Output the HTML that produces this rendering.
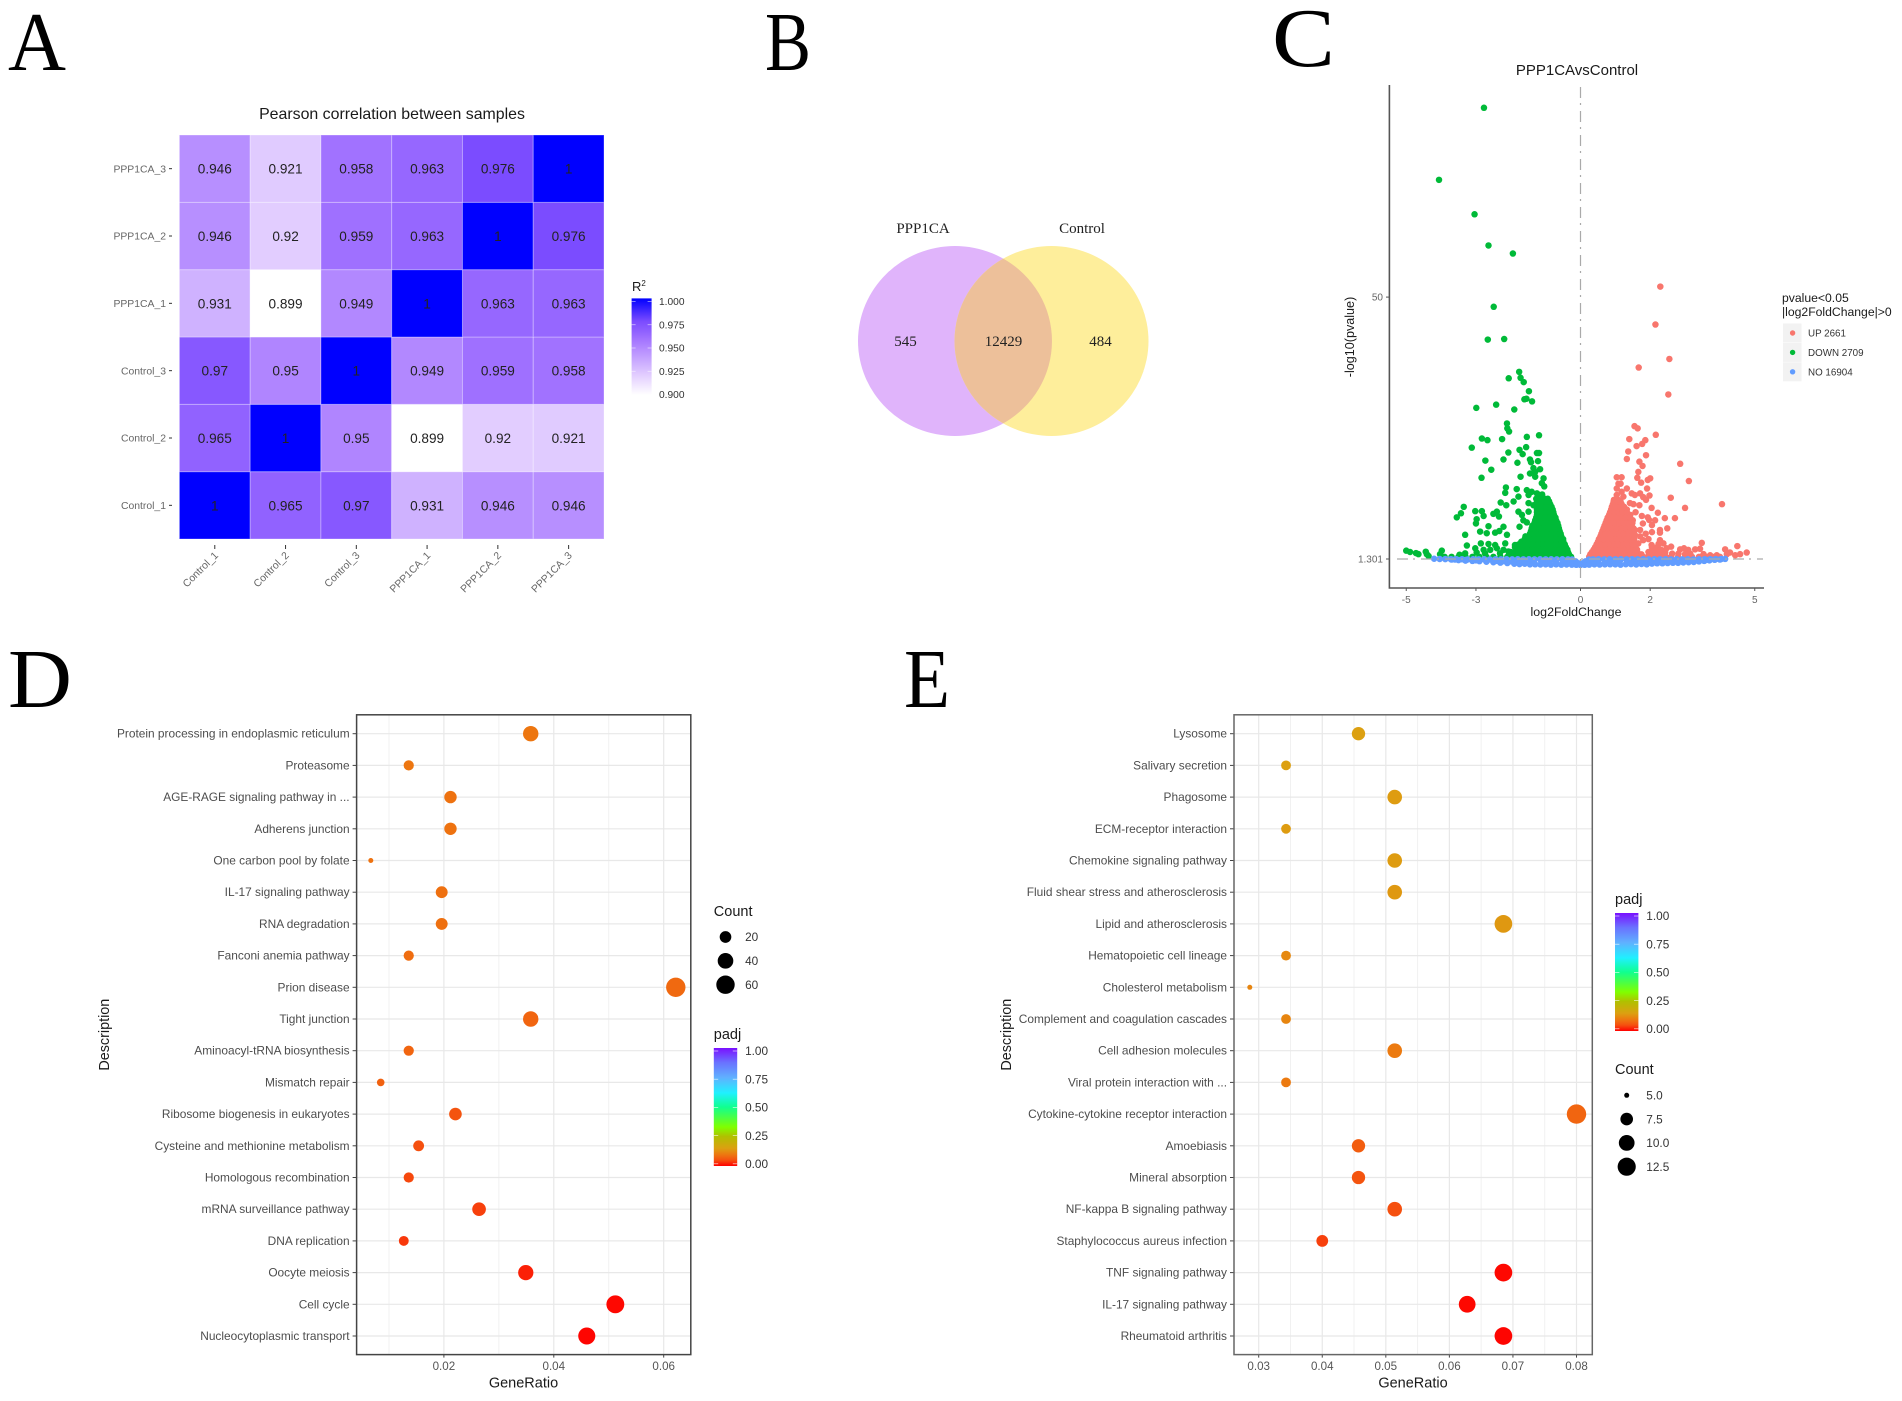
<!DOCTYPE html>
<html lang="en">
<head>
<meta charset="utf-8">
<title>PPP1CA figure panels</title>
<style>
html,body{margin:0;padding:0;background:#fff;}
svg{display:block;filter:blur(.35px);}
text{font-family:"Liberation Sans",sans-serif;}
.letter{font-family:"Liberation Serif",serif;font-size:84px;fill:#000;}
.venn{font-family:"Liberation Serif",serif;font-size:15px;fill:#222;text-anchor:middle;}
</style>
</head>
<body>
<svg id="fig" xmlns="http://www.w3.org/2000/svg" width="1902" height="1401" viewBox="0 0 1902 1401">
  <defs id="defs"></defs>
  <rect x="0" y="0" width="1902" height="1401" fill="#fff"/>
  <text class="letter" x="8" y="70" textLength="58" lengthAdjust="spacingAndGlyphs">A</text>
  <text class="letter" x="765" y="70" textLength="46" lengthAdjust="spacingAndGlyphs">B</text>
  <text class="letter" x="1272" y="66" textLength="63" lengthAdjust="spacingAndGlyphs">C</text>
  <text class="letter" x="8" y="707" textLength="64" lengthAdjust="spacingAndGlyphs">D</text>
  <text class="letter" x="904" y="707" textLength="46" lengthAdjust="spacingAndGlyphs">E</text>

  <g id="panelA">
    <text x="392" y="119" font-size="15.9" fill="#1a1a1a" text-anchor="middle">Pearson correlation between samples</text>
    <text x="632" y="291" font-size="13" fill="#1a1a1a">R<tspan font-size="8" dy="-5">2</tspan></text>
  </g>

  <g id="panelB">
    <ellipse cx="955" cy="341" rx="97" ry="95" fill="#e0b4fb"/>
    <ellipse cx="1051.5" cy="341" rx="97" ry="95" fill="#feee9b"/>
    <path d="M1003.25,258.6 A97,95 0 0 1 1003.25,423.4 A97,95 0 0 1 1003.25,258.6 Z" fill="#edc09a"/>
    <text class="venn" x="923" y="233">PPP1CA</text>
    <text class="venn" x="1082" y="233">Control</text>
    <text class="venn" x="905.5" y="346">545</text>
    <text class="venn" x="1003.5" y="346">12429</text>
    <text class="venn" x="1100.5" y="346">484</text>
  </g>

  <g id="panelC">
    <text x="1577" y="75" font-size="15" fill="#1a1a1a" text-anchor="middle">PPP1CAvsControl</text>
    <text x="1576" y="616" font-size="12.4" fill="#1a1a1a" text-anchor="middle">log2FoldChange</text>
    <text transform="translate(1354,337) rotate(-90)" font-size="12.6" fill="#1a1a1a" text-anchor="middle">-log10(pvalue)</text>
    <text x="1782" y="302" font-size="12.2" fill="#1a1a1a">pvalue&lt;0.05</text>
    <text x="1782" y="316" font-size="12.2" fill="#1a1a1a">|log2FoldChange|&gt;0</text>
  </g>

  <g id="panelD"></g>
  <g id="panelE"></g>
</svg>

<script>
/* ---------- Panel A data ---------- */
const heatSamples = ["Control_1","Control_2","Control_3","PPP1CA_1","PPP1CA_2","PPP1CA_3"];
const heatMatrix = [
  [1,0.965,0.97,0.931,0.946,0.946],
  [0.965,1,0.95,0.899,0.92,0.921],
  [0.97,0.95,1,0.949,0.959,0.958],
  [0.931,0.899,0.949,1,0.963,0.963],
  [0.946,0.92,0.959,0.963,1,0.976],
  [0.946,0.921,0.958,0.963,0.976,1]
];
const heatLegendTicks = ["0.900","0.925","0.950","0.975","1.000"];

/* ---------- Panel C data: [log2FoldChange, -log10(pvalue)] ---------- */
const volcanoXTicks = [-5,-3,0,2,5];
const volcanoYTicks = [1.301,50];
const legendLabels = ["UP 2661","DOWN 2709","NO 16904"];
const downScatter = [[-2.77,85.2],[-4.06,71.8],[-3.04,65.4],[-2.64,59.6],[-1.94,58.1],[-2.49,48.2],[-2.66,42.1],[-2.19,42.2],[-1.76,36.1],[-2.06,34.9],[-1.72,35],[-1.63,34.2],[-1.48,32.5],[-1.61,31],[-1.55,31.1],[-1.39,30.6],[-2.99,29.4],[-2.42,30],[-1.9,29.1],
[-5,2.85],[-4.89,2.6],[-4.72,2.4],[-4.65,2.2],[-4.44,2.66],[-4.41,2.2],[-4.36,1.86],[-3.98,2.85],[-4.03,2.2],[-3.47,2.1],[-3.31,2.35],[-3.26,3.8],[-3.31,5.8],[-3.55,9.05],[-3.43,9.8],[-3.35,11],[-3.02,10.2],[-2.83,10.2],[-2.78,9.3],[-2.98,8.7],[-3,7.9],[-3.12,22],[-2.83,23.7],[-2.67,23.4],[-2.25,23.6],[-2.11,26.5],[-2.1,25.6],[-2.05,25],[-1.54,24],[-1.19,24.3],[-1.56,22.1],[-1.75,21.6],[-1.66,20.8],[-2.07,21.1],[-2.21,19.8],[-2.73,19.6],[-1.81,19.2],[-2.56,17.9],[-2.84,16.4],[-1.45,19.8],[-1.42,19.3],[-1.22,19.5],[-1.25,21],[-1.19,21],[-1.35,18.2],[-1.45,17.2],[-1.3,17.5],[-1.16,18],[-1.3,16.6],[-1.06,16.3],[-1.11,15.4],[-1.04,14.8],[-1.72,16.6],[-2.14,14.6],[-2.16,13.6],[-1.83,14.3],[-1.78,12.9],[-1.92,12],[-2.29,11.8],[-2.13,11.3],[-1.54,14.1],[-1.4,13.8],[-1.49,13.2],[-1.25,13.5],[-2.64,7.4],[-2.4,10.1],[-2.5,9.7],[-2.34,9.2],[-2.21,7.3],[-2.33,6.5],[-2.45,6.2],[-2.69,6.1],[-2.88,6.4],[-2.11,5.8],[-1.78,10.1],[-1.68,9.5],[-1.75,7.3],[-1.64,8.5],[-1.49,10.1],[-1.54,8.1],[-1.49,11.7],[-1.35,11.3],[-2.86,4.2],[-3.02,3.3],[-2.98,2.5],[-2.64,4.1],[-2.45,3.9],[-2.59,3],[-2.78,3],[-2.74,2.35],[-2.4,3.3],[-2.16,4.2],[-2.21,3],[-1.88,3.9],[-2.07,2.7],[-2.31,2.35]];
const downDenseY = [1.7,2.6,3.5,4.5,5.5,6.5,7.5,8.5,9.5,10.5,11.5,12.5,13.3,2.15,3.05,4,5,6,7,8,9,10,11,12];
const downDenseX = [
 [-3.9,-3.7,-3.5,-3.3,-3.1,-2.9,-2.7,-2.5,-2.3,-2.1,-1.95,-1.8,-1.66,-1.52,-1.38,-1.24,-1.1,-0.96,-0.82,-0.68,-0.54,-0.4,-0.27],
 [-2,-1.87,-1.73,-1.6,-1.46,-1.33,-1.2,-1.06,-0.93,-0.8,-0.67,-0.54,-0.36],
 [-1.88,-1.72,-1.58,-1.45,-1.32,-1.19,-1.06,-0.93,-0.8,-0.67,-0.54,-0.42],
 [-1.7,-1.55,-1.42,-1.28,-1.15,-1.02,-0.89,-0.76,-0.63,-0.49],
 [-1.58,-1.42,-1.28,-1.15,-1.02,-0.89,-0.76,-0.65,-0.55],
 [-1.42,-1.28,-1.15,-1.02,-0.89,-0.76,-0.6],
 [-1.38,-1.25,-1.12,-0.99,-0.86,-0.74,-0.64],
 [-1.3,-1.17,-1.04,-0.91,-0.8,-0.7],
 [-1.25,-1.12,-0.99,-0.86,-0.76],
 [-1.25,-1.12,-0.99,-0.88,-0.8],
 [-1.25,-1.12,-1,-0.87],
 [-1.27,-1.15,-1.03,-0.94],
 [-1.22,-1.1],
 [-1.94,-1.8,-1.67,-1.53,-1.4,-1.27,-1.13,-1,-0.87,-0.73,-0.6,-0.47,-0.33],
 [-1.8,-1.65,-1.52,-1.38,-1.25,-1.12,-1,-0.87,-0.73,-0.6,-0.48,-0.38],
 [-1.78,-1.64,-1.5,-1.36,-1.22,-1.08,-0.96,-0.83,-0.7,-0.56,-0.45],
 [-1.6,-1.48,-1.35,-1.22,-1.08,-0.96,-0.83,-0.7,-0.58,-0.5],
 [-1.45,-1.35,-1.22,-1.08,-0.96,-0.83,-0.7,-0.57],
 [-1.4,-1.32,-1.18,-1.05,-0.92,-0.8,-0.68,-0.62],
 [-1.32,-1.2,-1.07,-0.95,-0.83,-0.73,-0.66],
 [-1.27,-1.14,-1.01,-0.88,-0.78,-0.72],
 [-1.25,-1.12,-0.99,-0.87,-0.78],
 [-1.25,-1.12,-0.99,-0.87,-0.83],
 [-1.25,-1.12,-0.99,-0.9]
];
const upScatter = [[2.29,51.95],[2.15,44.9],[2.55,38.5],[1.67,36.9],[2.52,31.9],[1.55,26],[1.64,25.6],[2.16,24.4],[1.4,23.6],[1.86,23.4],[1.77,22.7],[1.61,22.3],[1.37,21.3],[1.88,20.6],[1.33,19.9],[1.69,19.4],[1.78,18.6],[2.86,19],[1.66,17.5],[3.11,15.8],[1.63,16.4],[1.74,15.5],[1.93,16],[2,16.3],[1.91,14.4],[1.04,16.5],[1.18,16.5],[1.09,15.3],[1.15,15.3],[1.04,14.4],[1.18,13.8],[1.33,14.4],[1.04,13.2],[1.23,12.9],[1.47,13.5],[1.56,13.2],[1.71,13.5],[1.8,12.8],[1.98,13.1],[1.88,12.3],[2.59,12.7],[1.42,11.7],[1.52,11.5],[1.69,11.3],[4.06,11.5],[2.04,10.8],[3,10.8],[1.58,10],[2.22,9.9],[1.76,9.3],[1.93,9.05],[1.97,8.55],[2.42,8.9],[2.71,8.9],[2.14,8.5],[1.79,7.9],[2.05,7.6],[2.49,7],[2.28,6.7],[1.71,6.7],[1.56,6.7],[1.87,6],[2.05,6.3],[2.28,6.2],[1.56,5.8],[1.71,5.5],[1.95,5],[1.66,4.2],[1.8,4.8],[2.04,3.9],[2.24,4.1],[2.28,4.8],[2.38,4.2],[2.47,3.3],[2.6,3.6],[2.86,3.1],[2.97,3.3],[3.09,3],[3.48,4.3],[3.29,3.1],[3.43,3.2],[4.15,3.1],[4.5,3.7],[4.77,2.5],[4.58,2.2],[4.29,2.5],[4.44,2],[4.2,2.2],[2.43,2.5],[2.63,2.3],[2.81,2.3],[3,2.2],[3.15,2.3],[3.53,2.2],[3.72,2],[3.91,2]];
const upDenseY = [1.7,2.6,3.5,4.5,5.5,6.5,7.5,8.5,9.5,10.5,11.5,12.3,2.15,3.05,4,5,6,7,8,9,10,11,12];
const upDenseX = [
 [0.25,0.38,0.5,0.63,0.76,0.89,1.02,1.15,1.28,1.41,1.54,1.67,1.8,1.93,2.06,2.19,2.32,2.45,2.6,2.8,3,3.2,3.4,3.6,3.8,4],
 [0.33,0.46,0.59,0.72,0.85,0.98,1.11,1.24,1.37,1.5,1.63,1.95,2.1,2.25,2.38],
 [0.42,0.55,0.68,0.81,0.94,1.07,1.2,1.33,1.46,1.58,2.05,2.2],
 [0.5,0.63,0.76,0.89,1.02,1.15,1.28,1.41,1.54],
 [0.57,0.7,0.83,0.96,1.09,1.22,1.35,1.48],
 [0.63,0.76,0.89,1.02,1.15,1.28,1.43],
 [0.69,0.82,0.95,1.08,1.21,1.34,1.47],
 [0.75,0.88,1.01,1.14,1.27,1.4,1.5],
 [0.82,0.95,1.08,1.21,1.34,1.43],
 [0.88,1,1.12,1.24,1.33],
 [0.93,1.05,1.18],
 [0.96,1.08],
 [0.28,0.4,0.53,0.66,0.79,0.92,1.05,1.18,1.31,1.44,1.57,1.75,2,2.2,2.35],
 [0.38,0.5,0.62,0.75,0.88,1.01,1.14,1.27,1.4,1.52,1.62,2.1,2.3],
 [0.46,0.58,0.71,0.84,0.97,1.1,1.23,1.36,1.5,1.58],
 [0.53,0.66,0.79,0.92,1.05,1.18,1.31,1.44,1.54],
 [0.6,0.72,0.85,0.98,1.11,1.24,1.37,1.5],
 [0.66,0.78,0.91,1.04,1.17,1.3,1.43,1.52],
 [0.72,0.85,0.98,1.11,1.24,1.37,1.49],
 [0.78,0.91,1.04,1.17,1.3,1.42],
 [0.85,0.97,1.09,1.21,1.33],
 [0.9,1.02,1.14,1.25],
 [0.95,1.07,1.15]
];
const noUpper = [[-4.2,1.35],[-4.04,1.3],[-3.88,1.28],[-3.72,1.26],[-3.56,1.25],[-3.4,1.25],[-3.24,1.22],[-3.08,1.25],[-2.92,1.24],[-2.76,1.25],[-2.6,1.22],[-2.44,1.25],[-2.28,1.24],[-2.12,1.25],[-1.96,1.23],[-1.8,1.25],[-1.64,1.24],[-1.48,1.25],[-1.32,1.23],[-1.16,1.25],[-1,1.24],[-0.84,1.25],[-0.68,1.23],[-0.52,1.25],[-0.36,1.24],[-0.24,1.2],[-0.14,0.85],[-0.06,0.5],[0,0.3],[0.06,0.5],[0.14,0.85],[0.24,1.2],[0.36,1.24],[0.52,1.25],[0.68,1.23],[0.84,1.25],[1,1.24],[1.16,1.25],[1.32,1.23],[1.48,1.25],[1.64,1.24],[1.8,1.25],[1.96,1.23],[2.12,1.25],[2.28,1.24],[2.44,1.25],[2.6,1.22],[2.76,1.25],[2.92,1.24],[3.08,1.25],[3.24,1.22],[3.4,1.25],[3.56,1.25],[3.72,1.26],[3.88,1.28],[4.04,1.3],[4.15,1.32]];
const noMiddle = [[-3.6,1.2],[-3.3,1.12],[-3,1.05],[-2.7,1],[-2.4,0.95],[-2.2,0.9],[-2,0.85],[-1.8,0.8],[-1.55,0.8],[-1.35,0.8],[-1.1,0.78],[-0.9,0.78],[-0.7,0.8],[-0.5,0.78],[-0.3,0.75],[0.3,0.75],[0.5,0.78],[0.7,0.8],[0.9,0.78],[1.1,0.78],[1.35,0.8],[1.55,0.8],[1.8,0.8],[2,0.85],[2.2,0.9],[2.4,0.9],[2.7,0.95],[3,1],[3.3,1.05],[3.6,1.15]];
const noLower = [[-3.7,1.2],[-3.5,1.1],[-3.3,1],[-3.1,0.95],[-2.9,0.9],[-2.7,0.8],[-2.5,0.7],[-2.3,0.62],[-2.1,0.55],[-1.9,0.42],[-1.75,0.35],[-1.6,0.42],[-1.45,0.3],[-1.3,0.32],[-1.15,0.28],[-1,0.3],[-0.85,0.25],[-0.7,0.3],[-0.55,0.25],[-0.4,0.28],[-0.25,0.25],[-0.12,0.22],[0,0.2],[0.12,0.22],[0.25,0.25],[0.4,0.3],[0.55,0.27],[0.7,0.3],[0.85,0.32],[1,0.3],[1.15,0.25],[1.3,0.33],[1.45,0.35],[1.6,0.28],[1.75,0.38],[1.9,0.3],[2.05,0.45],[2.2,0.5],[2.35,0.5],[2.5,0.55],[2.65,0.6],[2.8,0.58],[2.95,0.65],[3.1,0.7],[3.25,0.75],[3.4,0.85],[3.55,0.95],[3.7,1.05],[3.85,1.15],[4,1.2]];

/* ---------- Panel D data ---------- */
const dTerms = ["Protein processing in endoplasmic reticulum","Proteasome","AGE-RAGE signaling pathway in ...","Adherens junction","One carbon pool by folate","IL-17 signaling pathway","RNA degradation","Fanconi anemia pathway","Prion disease","Tight junction","Aminoacyl-tRNA biosynthesis","Mismatch repair","Ribosome biogenesis in eukaryotes","Cysteine and methionine metabolism","Homologous recombination","mRNA surveillance pathway","DNA replication","Oocyte meiosis","Cell cycle","Nucleocytoplasmic transport"];
const dRatio = [0.0358,0.0136,0.0212,0.0212,0.0067,0.0196,0.0196,0.0136,0.0622,0.0358,0.0136,0.0085,0.0221,0.0154,0.0136,0.0264,0.0127,0.0349,0.0512,0.046];
const dCount = [39,15,23,23,7,21,21,15,68,39,15,9,24,17,15,29,14,38,56,50];
const dPadj = [0.095,0.095,0.09,0.09,0.09,0.088,0.088,0.085,0.08,0.075,0.075,0.07,0.055,0.05,0.045,0.04,0.035,0.02,0.005,0.003];
const dXTicks = [0.02,0.04,0.06];
const dXMinor = [0.01,0.03,0.05];
const dCountLegend = [20,40,60];

/* ---------- Panel E data ---------- */
const eTerms = ["Lysosome","Salivary secretion","Phagosome","ECM-receptor interaction","Chemokine signaling pathway","Fluid shear stress and atherosclerosis","Lipid and atherosclerosis","Hematopoietic cell lineage","Cholesterol metabolism","Complement and coagulation cascades","Cell adhesion molecules","Viral protein interaction with ...","Cytokine-cytokine receptor interaction","Amoebiasis","Mineral absorption","NF-kappa B signaling pathway","Staphylococcus aureus infection","TNF signaling pathway","IL-17 signaling pathway","Rheumatoid arthritis"];
const eRatio = [0.0457,0.0343,0.0514,0.0343,0.0514,0.0514,0.0685,0.0343,0.0286,0.0343,0.0514,0.0343,0.08,0.0457,0.0457,0.0514,0.04,0.0685,0.0628,0.0685];
const eCount = [8,6,9,6,9,9,12,6,5,6,9,6,14,8,8,9,7,12,11,12];
const ePadj = [0.15,0.15,0.145,0.145,0.145,0.14,0.14,0.12,0.115,0.115,0.1,0.1,0.075,0.065,0.055,0.05,0.04,0.005,0.005,0.003];
const eXTicks = [0.03,0.04,0.05,0.06,0.07,0.08];
const eXMinor = [0.035,0.045,0.055,0.065,0.075];
const eCountLegend = [5,7.5,10,12.5];
const padjLegend = ["0.00","0.25","0.50","0.75","1.00"];

/* ---------- colour ramps ---------- */
const heatStopV = [0.899,0.92,0.931,0.946,0.958,0.965,0.976,1];
const heatStopC = ["#ffffff","#e2cdff","#cfb2ff","#b78fff","#a172ff","#9162ff","#7b4cff","#0000ff"];
const padjStopV = [0,0.05,0.1,0.15,0.25,0.33,0.5,0.62,0.75,0.88,1];
const padjStopC = ["#ff0000","#f5500f","#ec7a10","#dca011","#b0c000","#80ff00","#10ff90","#20f0ff","#60b0ff","#6a70ff","#7a10ff"];

/* ---------- helpers ---------- */
const NS = "http://www.w3.org/2000/svg";
function mk(parent, tag, attrs, text){
  const n = document.createElementNS(NS, tag);
  for (const k in attrs) n.setAttribute(k, attrs[k]);
  if (text !== undefined) n.textContent = text;
  parent.appendChild(n);
  return n;
}
function hex(c){ return [1,3,5].map(i=>parseInt(c.substr(i,2),16)); }
function ramp(stopV, stopC, v){
  if (v <= stopV[0]) return stopC[0];
  for (let i=1;i<stopV.length;i++){
    if (v <= stopV[i]){
      const t=(v-stopV[i-1])/(stopV[i]-stopV[i-1]);
      const a=hex(stopC[i-1]), b=hex(stopC[i]);
      return "rgb("+a.map((x,j)=>Math.round(x+(b[j]-x)*t)).join(",")+")";
    }
  }
  return stopC[stopC.length-1];
}
const defs = document.getElementById("defs");
function gradient(id, stopV, stopC){
  const g = mk(defs,"linearGradient",{id:id,x1:0,y1:1,x2:0,y2:0});
  const lo=stopV[0], hi=stopV[stopV.length-1];
  stopV.forEach((v,i)=>mk(g,"stop",{offset:((v-lo)/(hi-lo)).toFixed(4),"stop-color":stopC[i]}));
}
gradient("heatRamp",heatStopV,heatStopC);
gradient("padjRamp",padjStopV,padjStopC);

/* ---------- Panel A ---------- */
(function(){
  const g = document.getElementById("panelA");
  const left=179.4, right=604, top=135, bottom=539;
  const cw=(right-left)/heatSamples.length, ch=(bottom-top)/heatSamples.length;
  const xS = i => left+cw*i;
  const yS = i => bottom-ch*(i+1);
  heatMatrix.forEach((row,r)=>row.forEach((v,c)=>{
    const cell = mk(g,"rect",{x:xS(c),y:yS(r),width:cw,height:ch,fill:ramp(heatStopV,heatStopC,v),stroke:"#fff","stroke-opacity":0.3,"stroke-width":1});
    
    
    const t = mk(g,"text",{x:xS(c)+cw/2,y:yS(r)+ch/2+5,"font-size":13.6,fill:"#222","text-anchor":"middle"},String(v));
    
    
  }));
  heatSamples.forEach((s,i)=>{
    const ty=yS(i)+ch/2, tx=xS(i)+cw/2;
    const yl = mk(g,"text",{x:166,y:ty+3.6,"font-size":10.4,fill:"#666","text-anchor":"end"},s);
    
    
    const yt = mk(g,"line",{x1:169,x2:172,y1:ty,y2:ty,stroke:"#333","stroke-width":1});
    
    
    const xt = mk(g,"line",{x1:tx,x2:tx,y1:545,y2:549,stroke:"#333","stroke-width":1});
    
    
    const xl = mk(g,"text",{transform:"translate("+(tx+4)+",556) rotate(-45)","font-size":10.4,fill:"#666","text-anchor":"end"},s);
    
    
  });
  const barTop=298.4, barBottom=395, barX=631.6, barW=20;
  const bar = mk(g,"rect",{x:barX,y:barTop,width:barW,height:barBottom-barTop,fill:"url(#heatRamp)"});
  
  
  heatLegendTicks.forEach((lab,i)=>{
    const y = 394.5-(parseFloat(lab)-0.9)/0.1*93;
    const t = mk(g,"text",{x:659,y:y+3.6,"font-size":10.2,fill:"#333"},lab);
    
    
    [barX,barX+barW-4].forEach(x=>{
      const k = mk(g,"line",{x1:x,x2:x+4,y1:y,y2:y,stroke:"#fff","stroke-width":0.7,"stroke-opacity":0.7});
      
      
    });
  });
})();

/* ---------- Panel C ---------- */
(function(){
  const g = document.getElementById("panelC");
  const xS = v => 1580.5+v*34.85;
  const yS = v => 559-(v-1.301)*5.378;
  const green="#00ba38", red="#f8766d", blue="#619cff", R=3.25;
  function dot(x,y,fill,name){
    const c = mk(g,"circle",{cx:xS(x).toFixed(2),cy:yS(y).toFixed(2),r:R,fill:fill});
    
    
  }
  downDenseY.forEach((y,i)=>downDenseX[i].forEach(x=>dot(x,y,green,'down-point')));
  downScatter.forEach(p=>dot(p[0],p[1],green,'down-point'));
  upDenseY.forEach((y,i)=>upDenseX[i].forEach(x=>dot(x,y,red,'up-point')));
  upScatter.forEach(p=>dot(p[0],p[1],red,'up-point'));
  noUpper.forEach(p=>dot(p[0],p[1],blue,'not-significant-point'));
  noMiddle.forEach(p=>dot(p[0],p[1],blue,'not-significant-point'));
  noLower.forEach(p=>dot(p[0],p[1],blue,'not-significant-point'));

  const dash="11 5 2 6";
  const hl = mk(g,"line",{x1:1397,x2:1763,y1:yS(1.301),y2:yS(1.301),stroke:"#aaa","stroke-width":1.2,"stroke-dasharray":dash});
  
  
  const vl = mk(g,"line",{x1:xS(0),x2:xS(0),y1:87,y2:582,stroke:"#aaa","stroke-width":1.2,"stroke-dasharray":dash});
  
  
  const ax = mk(g,"path",{d:"M1389.4,85 V588 H1764",fill:"none",stroke:"#555","stroke-width":1.6});
  
  
  volcanoXTicks.forEach(v=>{
    const t = mk(g,"line",{x1:xS(v),x2:xS(v),y1:588,y2:591,stroke:"#555","stroke-width":1});
    
    
    const l = mk(g,"text",{x:xS(v),y:603,"font-size":10,fill:"#666","text-anchor":"middle"},String(v));
    
    
  });
  volcanoYTicks.forEach(v=>{
    const t = mk(g,"line",{x1:1386,x2:1389.4,y1:yS(v),y2:yS(v),stroke:"#555","stroke-width":1});
    
    
    const l = mk(g,"text",{x:1383,y:yS(v)+3.6,"font-size":10,fill:"#666","text-anchor":"end"},String(v));
    
    
  });
  const cols=[red,green,blue];
  legendLabels.forEach((lab,i)=>{
    const cy=333+i*19.4;
    const k = mk(g,"rect",{x:1783,y:cy-9.5,width:18.5,height:19,fill:"#f2f2f2"});
    
    
    const d = mk(g,"circle",{cx:1792.6,cy:cy,r:2.7,fill:cols[i]});
    
    
    const t = mk(g,"text",{x:1808,y:cy+3.5,"font-size":9.8,fill:"#333"},lab);
    
    
  });
})();

/* ---------- Panels D, E ---------- */
function dotplot(cfg){
  const g = document.getElementById(cfg.id);
  const L=cfg.left,Rt=cfg.right,T=714.8,B=1354.6;
  const xS = v => cfg.x0+(v-cfg.v0)*cfg.k;
  const yS = i => 733.7+i*31.7;
  const cMin=Math.min.apply(null,cfg.count), cMax=Math.max.apply(null,cfg.count);
  const rS = c => 2.5+7.2*Math.sqrt((c-cMin)/(cMax-cMin));
  cfg.minor.forEach(v=>{
    const m = mk(g,"line",{x1:xS(v),x2:xS(v),y1:T,y2:B,stroke:"#f1f1f1","stroke-width":1});
    
    
  });
  cfg.ticks.forEach(v=>{
    const m = mk(g,"line",{x1:xS(v),x2:xS(v),y1:T,y2:B,stroke:"#e8e8e8","stroke-width":1.2});
    
    
    const t = mk(g,"line",{x1:xS(v),x2:xS(v),y1:B,y2:B+3,stroke:"#444","stroke-width":1});
    
    
    const l = mk(g,"text",{x:xS(v),y:1370,"font-size":11.6,fill:"#555","text-anchor":"middle"},v.toFixed(2));
    
    
  });
  cfg.terms.forEach((term,i)=>{
    const y=yS(i);
    const gl = mk(g,"line",{x1:L,x2:Rt,y1:y,y2:y,stroke:"#e8e8e8","stroke-width":1.2});
    
    
    const t = mk(g,"line",{x1:L-4,x2:L,y1:y,y2:y,stroke:"#444","stroke-width":1});
    
    
    const l = mk(g,"text",{x:L-7,y:y+4,"font-size":11.9,fill:"#4d4d4d","text-anchor":"end"},term);
    
    
  });
  cfg.terms.forEach((term,i)=>{
    const c = mk(g,"circle",{cx:xS(cfg.ratio[i]).toFixed(2),cy:yS(i),r:rS(cfg.count[i]).toFixed(2),fill:ramp(padjStopV,padjStopC,cfg.padj[i])});
    
    
  });
  const fr = mk(g,"rect",{x:L,y:T,width:Rt-L,height:B-T,fill:"none",stroke:cfg.border,"stroke-width":1.5});
  
  
  const yT = mk(g,"text",{transform:"translate("+cfg.yTitleX+",1034.7) rotate(-90)","font-size":14.4,fill:"#1a1a1a","text-anchor":"middle"},"Description");
  
  
  const xT = mk(g,"text",{x:cfg.xTitleX,y:1387.5,"font-size":14.5,fill:"#1a1a1a","text-anchor":"middle"},"GeneRatio");
  
  

  /* size legend */
  const ct = mk(g,"text",{x:cfg.legX,y:cfg.countTitleY,"font-size":14.5,fill:"#1a1a1a"},"Count");
  
  
  cfg.countLegend.forEach((v,i)=>{
    const y=cfg.countY0+i*cfg.countStep;
    const d = mk(g,"circle",{cx:cfg.legX+11.7,cy:y,r:rS(v).toFixed(2),fill:"#000"});
    
    
    const l = mk(g,"text",{x:cfg.legX+31.3,y:y+4.2,"font-size":11.8,fill:"#333"},v%1===0&&cfg.id==="panelD"?String(v):v.toFixed(1));
    
    
  });

  /* colour legend */
  const pt = mk(g,"text",{x:cfg.legX,y:cfg.padjTitleY,"font-size":14.5,fill:"#1a1a1a"},"padj");
  
  
  const bar = mk(g,"rect",{x:cfg.legX,y:cfg.barTop,width:23.4,height:118,fill:"url(#padjRamp)"});
  
  
  padjLegend.forEach(lab=>{
    const y=cfg.barTop+115.8-parseFloat(lab)*112.8;
    const l = mk(g,"text",{x:cfg.legX+31.3,y:y+4.2,"font-size":11.8,fill:"#333"},lab);
    
    
    [cfg.legX,cfg.legX+19].forEach(x=>{
      const k = mk(g,"line",{x1:x,x2:x+4.4,y1:y,y2:y,stroke:"#fff","stroke-width":0.7,"stroke-opacity":0.8});
      
      
    });
  });
}
dotplot({id:"panelD",left:356.6,right:690.8,x0:443.9,v0:0.02,k:5495,terms:dTerms,ratio:dRatio,count:dCount,padj:dPadj,ticks:dXTicks,minor:dXMinor,border:"#444",yTitleX:109,xTitleX:523.5,legX:713.8,countTitleY:916,countY0:937,countStep:23.85,countLegend:dCountLegend,padjTitleY:1039,barTop:1048});
dotplot({id:"panelE",left:1234,right:1592.3,x0:1258.7,v0:0.03,k:6356,terms:eTerms,ratio:eRatio,count:eCount,padj:ePadj,ticks:eXTicks,minor:eXMinor,border:"#666",yTitleX:1011,xTitleX:1413,legX:1615,countTitleY:1074,countY0:1095.3,countStep:23.8,countLegend:eCountLegend,padjTitleY:904,barTop:913});
</script>
</body>
</html>
